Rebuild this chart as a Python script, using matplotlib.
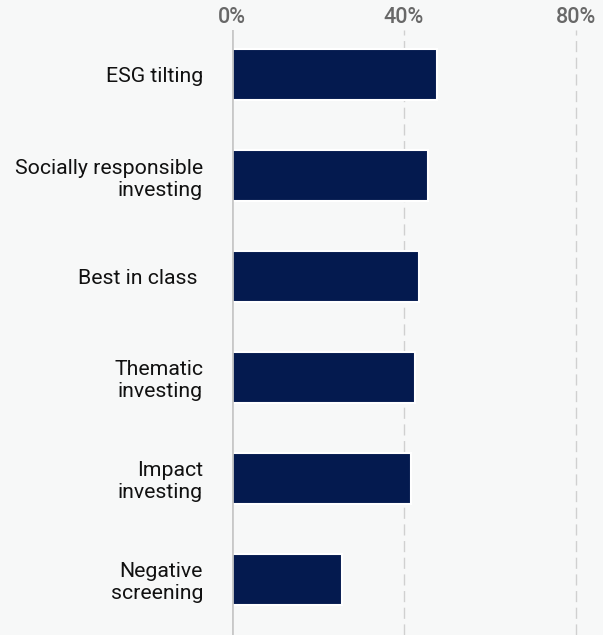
import matplotlib
matplotlib.use("Agg")
import matplotlib.pyplot as plt

plt.rcParams['font.family'] = ['Roboto', 'DejaVu Sans']

categories = ["ESG tilting", "Socially responsible\ninvesting", "Best in class ",
              "Thematic\ninvesting", "Impact\ninvesting", "Negative\nscreening"]
shares = [47.7, 45.7, 43.6, 42.7, 41.6, 25.6]
tick_values = [0, 40, 80]
tick_labels = ["0%", "40%", "80%"]

bg = "#f7f8f8"
navy = "#041a4f"

fig = plt.figure(figsize=(6.03, 6.35), dpi=100, facecolor=bg)
ax = fig.add_axes([0.3842, 0.0, 0.6158, 0.9528], facecolor=bg)

ypos = list(range(len(categories)))
ax.barh(ypos, shares, height=0.5, color=navy, edgecolor="white", linewidth=1.5, zorder=3)

ax.set_xlim(0, 86.35)
ax.set_ylim(5.552, -0.443)

# gridlines at the labelled percentages (except zero, drawn solid)
for v in tick_values[1:]:
    ax.axvline(v, color="#d0d0d0", linewidth=1, linestyle=(0, (8, 4)), zorder=1)
ax.axvline(0, color="#c8c8c8", linewidth=2, zorder=4)

ax.xaxis.tick_top()
ax.set_xticks(tick_values)
ax.set_xticklabels(tick_labels, fontsize=15.5, color="#686868", fontweight="medium")
ax.tick_params(axis="x", length=0, pad=1.5)

ax.set_yticks(ypos)
ax.set_yticklabels(categories, fontsize=15.3, color="#111111", ha="right")
ax.tick_params(axis="y", length=0, pad=20.6)

for s in ax.spines.values():
    s.set_visible(False)

fig.savefig("out.png", dpi=100, facecolor=bg)
